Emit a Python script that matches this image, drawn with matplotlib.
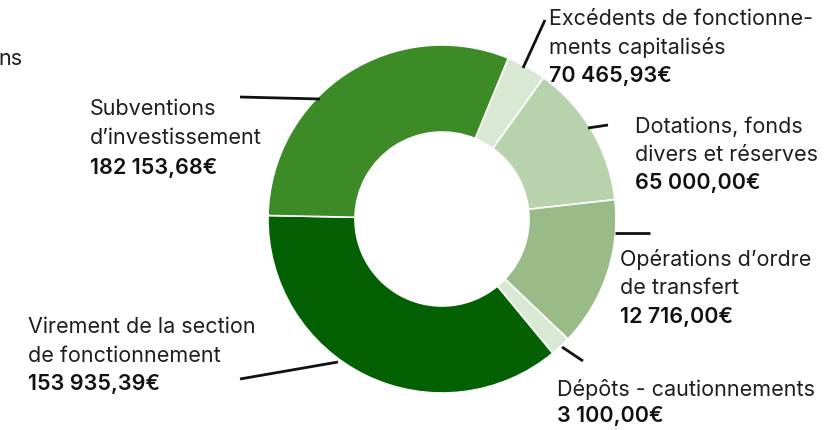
import matplotlib
matplotlib.use("Agg")
import matplotlib.pyplot as plt

# ---- data ----
labels = [
    "Excédents de fonctionne-\nments capitalisés",
    "Dotations, fonds\ndivers et réserves",
    "Opérations d’ordre\nde transfert",
    "Dépôts - cautionnements",
    "Virement de la section\nde fonctionnement",
    "Subventions\nd’investissement",
]
amounts = ["70 465,93€", "65 000,00€", "12 716,00€", "3 100,00€", "153 935,39€", "182 153,68€"]
# slice shares (%) as drawn in the picture
shares = [3.7, 13.3, 13.9, 1.9, 36.3, 30.9]
colors = ["#d8e8d3", "#b7d2ad", "#98bb88", "#d8e8d3", "#036003", "#3d8b26"]

W, H = 827, 430
fig = plt.figure(figsize=(W / 100, H / 100), dpi=100)
ax = fig.add_axes([0, 0, 1, 1])

def Y(y):
    return H - y

cx, cy, R, r = 442, 219, 174, 87
ax.pie(shares, colors=colors, startangle=67.6, counterclock=False,
       center=(cx, Y(cy)), radius=R, frame=True,
       wedgeprops=dict(width=R - r, edgecolor="white", linewidth=1.2))
ax.set_xlim(0, W)
ax.set_ylim(0, H)
ax.set_aspect("equal")
ax.axis("off")

font = ["Inter", "DejaVu Sans"]
fs = 15.5
tc = "#1e1e1e"

# leader lines (image pixel coords)
leaders = [
    ((545, 20), (523, 68)),
    ((588, 128), (608, 125)),
    ((615, 233), (650, 233)),
    ((562, 347), (583, 361)),
    ((240, 379), (338, 362)),
    ((240, 97), (320, 99)),
]
for (x0, y0), (x1, y1) in leaders:
    ax.plot([x0, x1], [Y(y0), Y(y1)], color="#111111", lw=2, solid_capstyle="butt")

# label positions (left x, top line center y, line spacing)
pos = [
    (549, 17, 28.5),
    (635, 125, 28),
    (620, 257, 29),
    (557, 388, 26),
    (28, 325, 28.5),
    (90, 107, 29.5),
]
for lab, amt, (x, y, dy) in zip(labels, amounts, pos):
    lines = lab.split("\n")
    for i, ln in enumerate(lines):
        ax.text(x, Y(y + i * dy), ln, ha="left", va="center_baseline",
                fontsize=fs, family=font, color=tc)
    ax.text(x, Y(y + len(lines) * dy), amt, ha="left", va="center_baseline",
            fontsize=fs, family=font, color="#111111", fontweight="semibold")

# cropped title fragment at top-left
ax.text(23, Y(57), "ns", ha="right", va="center_baseline", fontsize=fs,
        family=font, color=tc)

fig.savefig("out.png", dpi=100)
